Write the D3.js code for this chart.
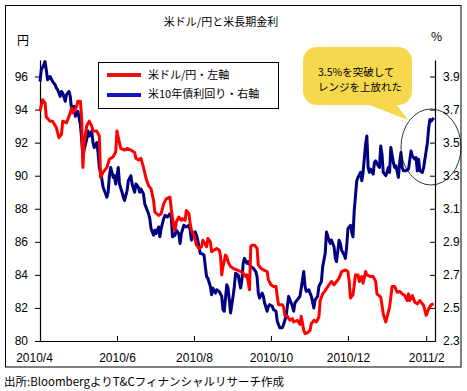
<!DOCTYPE html>
<html><head><meta charset="utf-8">
<script src="https://cdn.jsdelivr.net/npm/d3@7"></script>
<style>
body{margin:0;background:#fff;}
svg text{font-family:"Noto Sans CJK JP","Liberation Sans",sans-serif;fill:#000;}
.tick text{font-family:"Liberation Sans",Arial,sans-serif;}
</style></head><body>
<svg id="c" width="467" height="391"></svg>
<script>
const titleText = "米ドル/円と米長期金利";
const leftUnit = "円";
const rightUnit = "%";
const legendLabels = ["米ドル/円・左軸", "米10年債利回り・右軸"];
const calloutLines = ["3.5%を突破して", "レンジを上放れた"];
const sourceText = "出所:BloombergよりT&Cフィナンシャルリサーチ作成";

const xTickDates = ["2010-04-01","2010-06-01","2010-08-01","2010-10-01","2010-12-01","2011-02-01"];
const xDomain = ["2010-04-01","2011-02-08"];
const leftTicks = [80,82,84,86,88,90,92,94,96];
const leftDomain = [80,97];
const rightTicks = [2.3,2.5,2.7,2.9,3.1,3.3,3.5,3.7,3.9];
const rightDomain = [2.3,4.0];

const jpyDates = ["2010-04-01","2010-04-03","2010-04-05","2010-04-06","2010-04-09","2010-04-11","2010-04-14","2010-04-16","2010-04-18","2010-04-19","2010-04-22","2010-04-25","2010-04-26","2010-04-27","2010-04-29","2010-04-30",
"2010-05-01","2010-05-03","2010-05-04","2010-05-05","2010-05-06","2010-05-08","2010-05-10","2010-05-12","2010-05-13","2010-05-16","2010-05-18","2010-05-19","2010-05-21","2010-05-24","2010-05-26","2010-05-29","2010-05-31",
"2010-06-01","2010-06-02","2010-06-04","2010-06-07","2010-06-09","2010-06-12","2010-06-15","2010-06-16","2010-06-18","2010-06-20","2010-06-22","2010-06-24","2010-06-26","2010-06-28","2010-06-30",
"2010-07-01","2010-07-04","2010-07-06","2010-07-08","2010-07-10","2010-07-13","2010-07-14","2010-07-16","2010-07-17","2010-07-18","2010-07-20","2010-07-22","2010-07-23","2010-07-25","2010-07-26","2010-07-28","2010-07-29","2010-07-30",
"2010-08-01","2010-08-03","2010-08-05","2010-08-07","2010-08-08","2010-08-11","2010-08-12","2010-08-14","2010-08-15","2010-08-17","2010-08-19","2010-08-21","2010-08-22","2010-08-23","2010-08-24","2010-08-26","2010-08-27","2010-08-28","2010-08-30",
"2010-09-01","2010-09-04","2010-09-07","2010-09-09","2010-09-11","2010-09-12","2010-09-14","2010-09-15","2010-09-16","2010-09-18","2010-09-20","2010-09-21","2010-09-23","2010-09-25","2010-09-28","2010-09-29",
"2010-10-01","2010-10-03","2010-10-05","2010-10-06","2010-10-07","2010-10-10","2010-10-11","2010-10-12","2010-10-14","2010-10-16","2010-10-18","2010-10-19","2010-10-22","2010-10-24","2010-10-25","2010-10-27","2010-10-28","2010-10-30",
"2010-11-01","2010-11-02","2010-11-04","2010-11-06","2010-11-08","2010-11-09","2010-11-11","2010-11-13","2010-11-16","2010-11-18","2010-11-20","2010-11-22","2010-11-24","2010-11-26","2010-11-29",
"2010-12-01","2010-12-02","2010-12-03","2010-12-05","2010-12-07","2010-12-09","2010-12-10","2010-12-12","2010-12-13","2010-12-15","2010-12-16","2010-12-19","2010-12-21","2010-12-23","2010-12-24","2010-12-27","2010-12-29","2010-12-31",
"2011-01-01","2011-01-03","2011-01-05","2011-01-07","2011-01-09","2011-01-11","2011-01-13","2011-01-15","2011-01-17","2011-01-18","2011-01-19","2011-01-21","2011-01-23","2011-01-25","2011-01-27","2011-01-29","2011-01-30",
"2011-02-01","2011-02-03","2011-02-05","2011-02-07"];
const jpyValues = [93.9,94.6,94.4,93.55,93.3,93.3,92.9,92.3,92.5,93.3,93.2,93.8,94.1,93.8,94.0,94.2,
94.5,94.5,93.5,90.5,92.0,93.0,93.3,93.0,92.7,92.7,92.4,89.9,90.2,90.5,91.0,91.15,91.45,
92.7,92.3,91.65,91.55,91.65,91.55,91.4,91.05,90.95,91.05,90.5,89.85,89.4,89.2,88.5,
87.8,87.6,87.7,88.3,88.6,88.7,88.0,86.9,86.7,87.2,87.5,87.3,87.4,87.3,87.9,87.7,87.1,86.7,
86.4,85.8,85.6,85.7,86.1,85.7,86.2,86.0,85.4,85.5,85.6,85.5,85.2,84.0,84.5,85.2,85.1,84.8,84.5,
84.4,84.3,84.2,84.1,83.9,84.0,83.1,85.7,85.8,85.8,85.6,84.6,84.4,84.3,84.2,83.7,
83.4,83.3,83.3,82.7,82.2,82.2,82.05,81.55,81.5,81.25,81.35,81.15,81.25,81.0,81.5,80.65,80.45,80.5,
80.65,81.05,81.25,81.15,81.45,82.45,82.85,83.05,83.4,83.6,83.4,83.6,83.8,84.2,84.3,
84.2,83.6,82.6,82.8,84.0,84.0,83.6,83.9,83.5,84.2,84.0,83.9,83.9,83.6,82.85,82.65,81.65,81.15,
81.45,82.05,83.3,83.3,82.95,83.0,82.85,82.75,82.45,82.85,82.45,82.75,82.35,82.25,82.45,82.25,82.15,
81.55,81.95,82.2,82.25];

const ustDates = ["2010-04-01","2010-04-02","2010-04-04","2010-04-05","2010-04-06","2010-04-07","2010-04-09","2010-04-11","2010-04-13","2010-04-14","2010-04-15","2010-04-17","2010-04-18","2010-04-19","2010-04-21","2010-04-22","2010-04-24","2010-04-25","2010-04-26","2010-04-28","2010-04-29",
"2010-05-01","2010-05-02","2010-05-03","2010-05-04","2010-05-05","2010-05-06","2010-05-08","2010-05-09","2010-05-10","2010-05-12","2010-05-13","2010-05-14","2010-05-16","2010-05-17","2010-05-18","2010-05-20","2010-05-21","2010-05-22","2010-05-24","2010-05-25","2010-05-26","2010-05-27","2010-05-29","2010-05-30","2010-05-31",
"2010-06-02","2010-06-03","2010-06-05","2010-06-06","2010-06-07","2010-06-09","2010-06-10","2010-06-12","2010-06-13","2010-06-15","2010-06-16","2010-06-18","2010-06-19","2010-06-20","2010-06-22","2010-06-23","2010-06-24","2010-06-26","2010-06-27","2010-06-28","2010-06-30",
"2010-07-01","2010-07-02","2010-07-04","2010-07-05","2010-07-06","2010-07-08","2010-07-09","2010-07-11","2010-07-13","2010-07-14","2010-07-15","2010-07-17","2010-07-18","2010-07-20","2010-07-21","2010-07-22","2010-07-24","2010-07-26","2010-07-28","2010-07-29","2010-07-30","2010-07-31",
"2010-08-02","2010-08-03","2010-08-04","2010-08-06","2010-08-07","2010-08-09","2010-08-10","2010-08-11","2010-08-12","2010-08-14","2010-08-15","2010-08-16","2010-08-18","2010-08-19","2010-08-21","2010-08-23","2010-08-24","2010-08-25","2010-08-27","2010-08-28","2010-08-29","2010-08-30",
"2010-09-01","2010-09-02","2010-09-03","2010-09-05","2010-09-07","2010-09-08","2010-09-09","2010-09-10","2010-09-12","2010-09-13","2010-09-15","2010-09-17","2010-09-19","2010-09-20","2010-09-21","2010-09-22","2010-09-24","2010-09-25","2010-09-26","2010-09-28","2010-09-29","2010-09-30",
"2010-10-02","2010-10-03","2010-10-05","2010-10-06","2010-10-08","2010-10-10","2010-10-11","2010-10-13","2010-10-15","2010-10-16","2010-10-18","2010-10-19","2010-10-20","2010-10-22","2010-10-24","2010-10-25","2010-10-27","2010-10-28","2010-10-29","2010-10-31",
"2010-11-02","2010-11-04","2010-11-05","2010-11-07","2010-11-08","2010-11-10","2010-11-11","2010-11-13","2010-11-14","2010-11-16","2010-11-17","2010-11-18","2010-11-20","2010-11-21","2010-11-22","2010-11-24","2010-11-25","2010-11-26","2010-11-28","2010-11-29","2010-11-30",
"2010-12-01","2010-12-03","2010-12-04","2010-12-05","2010-12-06","2010-12-07","2010-12-08","2010-12-09","2010-12-11","2010-12-12","2010-12-13","2010-12-15","2010-12-16","2010-12-17","2010-12-18","2010-12-19","2010-12-21","2010-12-22","2010-12-23","2010-12-25","2010-12-26","2010-12-27","2010-12-28","2010-12-29","2010-12-31",
"2011-01-01","2011-01-02","2011-01-03","2011-01-04","2011-01-06","2011-01-07","2011-01-08","2011-01-10","2011-01-11","2011-01-12","2011-01-13","2011-01-14","2011-01-16","2011-01-18","2011-01-20","2011-01-21","2011-01-23","2011-01-24","2011-01-25","2011-01-26","2011-01-27","2011-01-29","2011-01-30","2011-01-31",
"2011-02-02","2011-02-03","2011-02-04","2011-02-05","2011-02-07"];
const ustValues = [3.87,3.94,3.97,3.99,3.94,3.88,3.90,3.87,3.85,3.83,3.82,3.78,3.81,3.80,3.75,3.79,3.81,3.78,3.70,3.72,3.66,
3.69,3.65,3.61,3.52,3.41,3.46,3.52,3.57,3.54,3.57,3.50,3.47,3.50,3.44,3.35,3.28,3.23,3.21,3.17,3.20,3.30,3.35,3.29,3.30,3.25,
3.35,3.25,3.20,3.17,3.15,3.21,3.27,3.30,3.25,3.20,3.25,3.23,3.20,3.22,3.19,3.13,3.11,3.07,3.04,2.98,2.94,
2.97,2.95,2.99,2.93,2.98,3.04,3.06,3.05,3.07,3.05,2.93,2.94,2.97,2.95,2.89,2.95,3.00,2.99,3.00,2.97,2.91,2.95,
2.96,2.94,2.91,2.83,2.83,2.82,2.75,2.69,2.68,2.63,2.58,2.62,2.59,2.61,2.60,2.57,2.49,2.48,2.64,2.62,2.55,2.47,
2.57,2.63,2.71,2.70,2.62,2.67,2.77,2.80,2.77,2.78,2.75,2.74,2.72,2.69,2.59,2.56,2.59,2.57,2.53,2.48,2.51,2.52,
2.51,2.49,2.48,2.42,2.38,2.38,2.40,2.45,2.57,2.55,2.51,2.48,2.53,2.55,2.57,2.62,2.72,2.63,2.60,2.61,
2.57,2.50,2.55,2.57,2.63,2.66,2.75,2.83,2.96,2.91,2.89,2.91,2.87,2.80,2.78,2.91,2.89,2.85,2.82,2.80,2.87,
2.98,3.00,2.96,2.93,3.09,3.18,3.27,3.29,3.32,3.27,3.32,3.49,3.54,3.35,3.32,3.34,3.31,3.38,3.39,3.36,3.35,3.48,3.43,3.32,3.30,
3.32,3.35,3.32,3.47,3.38,3.35,3.36,3.29,3.38,3.44,3.35,3.33,3.33,3.34,3.45,3.42,3.40,3.41,3.33,3.40,3.33,3.32,3.35,3.40,
3.50,3.59,3.64,3.63,3.65];

const parse = d3.timeParse("%Y-%m-%d");
const jpy = jpyDates.map((d,i)=>({date:parse(d), v:jpyValues[i]}));
const ust = ustDates.map((d,i)=>({date:parse(d), v:ustValues[i]}));

const svg = d3.select("#c");
const L = 40, R = 435, T = 60, B = 341;

svg.append("rect").attr("x",5.5).attr("y",5.5).attr("width",455.5).attr("height",361.5)
  .attr("fill","#fff").attr("stroke","#000").attr("stroke-width",1);

const x = d3.scaleTime().domain(xDomain.map(parse)).range([L,R]);
const yL = d3.scaleLinear().domain(leftDomain).range([B,T]);
const yR = d3.scaleLinear().domain(rightDomain).range([B,T]);

// axes
const gL = svg.append("g").attr("transform",`translate(${L},0)`)
  .call(d3.axisLeft(yL).tickValues(leftTicks).tickSizeInner(5).tickSizeOuter(0).tickPadding(7).tickFormat(d3.format("d")));
const gR = svg.append("g").attr("transform",`translate(${R},0)`)
  .call(d3.axisRight(yR).tickValues(rightTicks).tickSizeInner(-5).tickSizeOuter(0).tickPadding(8).tickFormat(d3.format(".1f")));
const gB = svg.append("g").attr("transform",`translate(0,${B})`)
  .call(d3.axisBottom(x).tickValues(xTickDates.map(parse)).tickSizeInner(-5).tickSizeOuter(0).tickPadding(12).tickFormat(d3.timeFormat("%Y/%-m")));
[gL,gR,gB].forEach(g=>{
  g.selectAll("path.domain").attr("stroke","#000").attr("stroke-width",1.2);
  g.selectAll(".tick line").attr("stroke","#000");
  g.selectAll(".tick text").attr("font-size",12).attr("fill","#000");
});
gB.selectAll(".tick text").filter((d,i)=>i===0).attr("dx",-6);

// lines
const lineR = d3.line().x(d=>x(d.date)).y(d=>yR(d.v));
const lineL = d3.line().x(d=>x(d.date)).y(d=>yL(d.v));
svg.append("path").datum(ust).attr("d",lineR).attr("fill","none")
  .attr("stroke","#000080").attr("stroke-width",3).attr("stroke-linejoin","round");
svg.append("path").datum(jpy).attr("d",lineL).attr("fill","none")
  .attr("stroke","#ff0000").attr("stroke-width",3).attr("stroke-linejoin","round");

// titles
svg.append("text").attr("x",221).attr("y",26).attr("text-anchor","middle").attr("font-size",11).text(titleText);
svg.append("text").attr("x",17).attr("y",45).attr("font-size",12).text(leftUnit);
svg.append("text").attr("x",431).attr("y",41).attr("font-size",12).attr("font-family","Liberation Sans, Arial, sans-serif").text(rightUnit);

// legend
const lg = svg.append("g");
lg.append("rect").attr("x",98.5).attr("y",62.5).attr("width",180).attr("height",46)
  .attr("fill","#fff").attr("stroke","#000").attr("stroke-width",1);
const legColors = ["#ee1111","#1414c0"];
legendLabels.forEach((t,i)=>{
  const yy = 75 + i*20;
  lg.append("line").attr("x1",107).attr("x2",141).attr("y1",yy).attr("y2",yy)
    .attr("stroke",legColors[i]).attr("stroke-width",4);
  lg.append("text").attr("x",148).attr("y",yy+4+ (i===0?0:-1)).attr("font-size",11).text(t);
});

// callout
const cg = svg.append("g");
cg.append("path").attr("d","M367,104 L408,120 L396,104 Z").attr("fill","#f6d84c");
cg.append("rect").attr("x",303).attr("y",47).attr("width",109).attr("height",58).attr("rx",14).attr("ry",14).attr("fill","#f6d84c");
calloutLines.forEach((t,i)=>{
  cg.append("text").attr("x",318).attr("y",75.5+i*15.5).attr("font-size",10.5).text(t);
});
svg.append("ellipse").attr("cx",431).attr("cy",147).attr("rx",30).attr("ry",38)
  .attr("fill","none").attr("stroke","#000").attr("stroke-width",0.8);

// source
svg.append("text").attr("x",4).attr("y",386).attr("font-size",11.5).text(sourceText);
</script>
</body></html>
